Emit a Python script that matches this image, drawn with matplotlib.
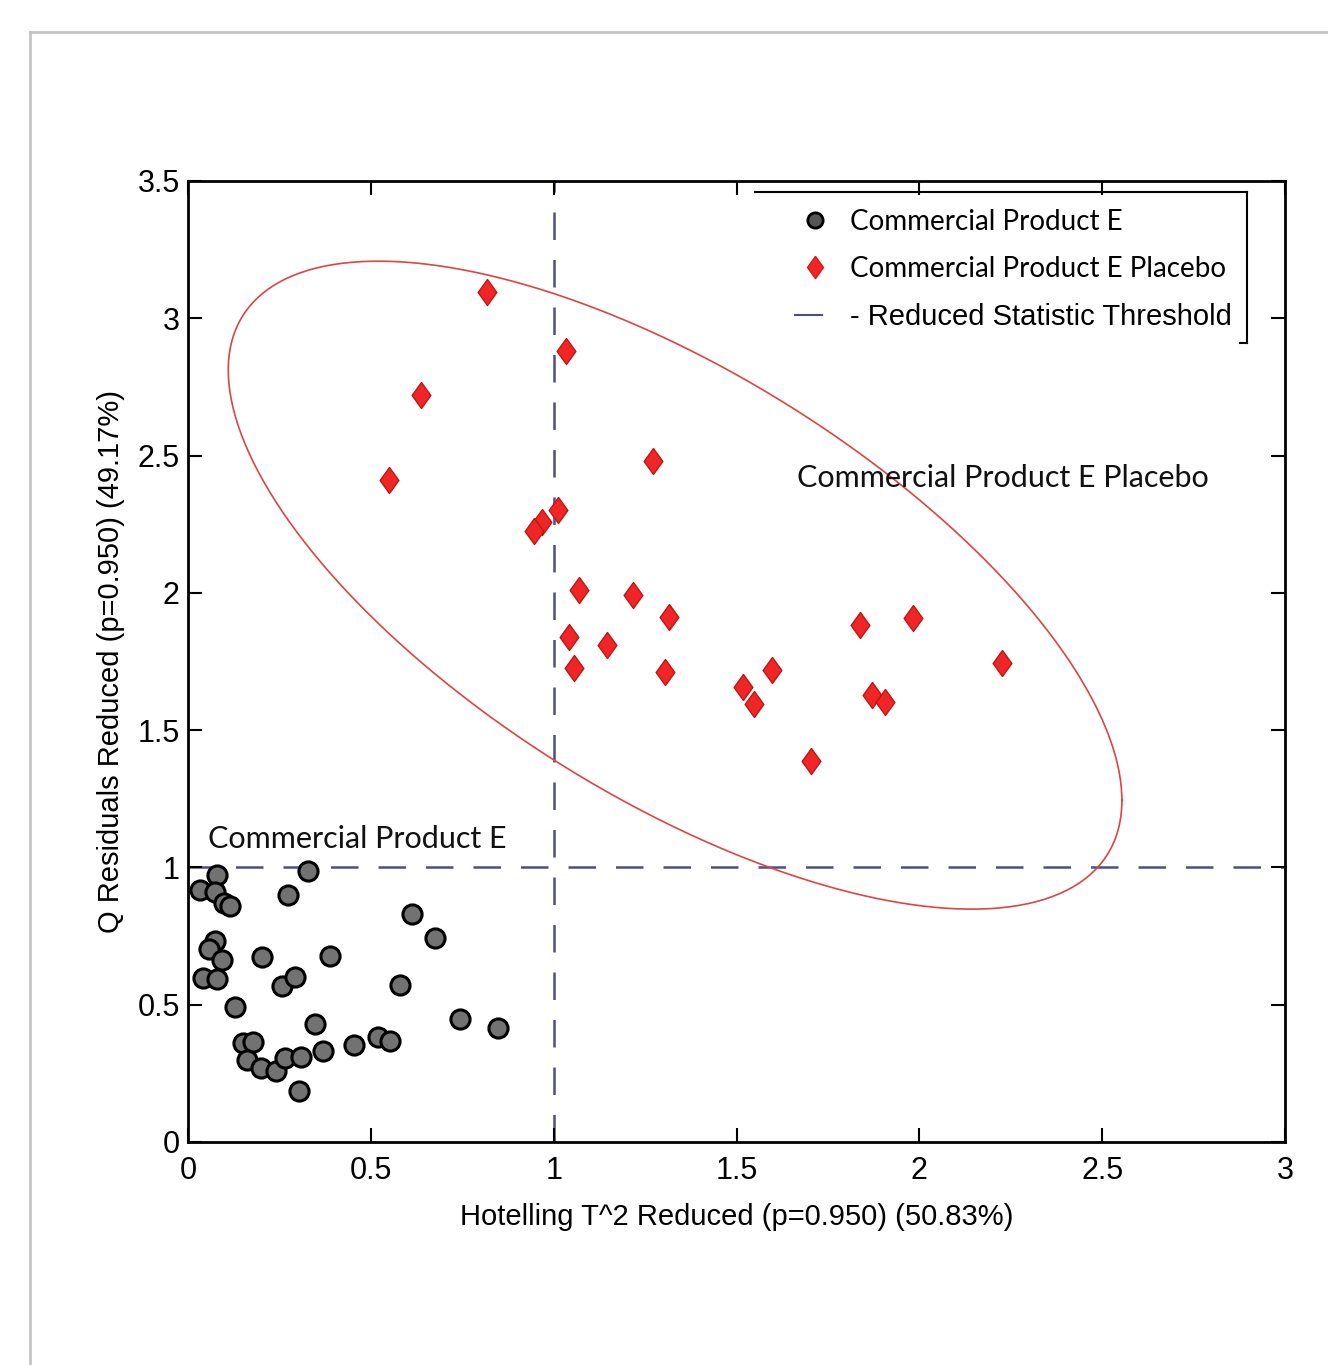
import numpy as np
import matplotlib
matplotlib.use('Agg')
import matplotlib.pyplot as plt
from matplotlib.lines import Line2D

# ==================== 数据 ====================
# Commercial Product E (gray circles)
prod_t2 = [0.078, 0.033, 0.074, 0.097, 0.115, 0.329, 0.274, 0.612, 0.675, 0.074,
           0.056, 0.092, 0.201, 0.388, 0.042, 0.078, 0.256, 0.293, 0.580, 0.129,
           0.347, 0.744, 0.849, 0.151, 0.179, 0.160, 0.199, 0.241, 0.265, 0.308,
           0.368, 0.454, 0.520, 0.551, 0.304]
prod_q = [0.972, 0.918, 0.911, 0.869, 0.859, 0.988, 0.899, 0.830, 0.742, 0.733,
          0.702, 0.663, 0.673, 0.677, 0.596, 0.592, 0.568, 0.600, 0.572, 0.490,
          0.430, 0.447, 0.414, 0.362, 0.365, 0.299, 0.268, 0.260, 0.305, 0.311,
          0.333, 0.353, 0.381, 0.369, 0.187]

# Commercial Product E Placebo (red diamonds)
plac_t2 = [0.817, 1.033, 0.637, 0.550, 1.271, 1.013, 0.967, 0.946, 1.070, 1.218,
           1.315, 1.043, 1.147, 1.056, 1.304, 1.598, 1.517, 1.548, 1.704, 1.838,
           1.983, 1.870, 1.906, 2.227]
plac_q = [3.096, 2.882, 2.720, 2.411, 2.480, 2.302, 2.259, 2.226, 2.010, 1.992,
          1.913, 1.840, 1.810, 1.725, 1.713, 1.719, 1.658, 1.595, 1.389, 1.883,
          1.909, 1.628, 1.603, 1.743]

# 阈值与置信椭圆（数据单位）
T2_LIMIT = 1.0
Q_LIMIT = 1.0
ELL_CENTER = (1.332, 2.028)
ELL_HALF_X = 1.222
ELL_HALF_Y = 1.180
ELL_PHASE_DEG = 131.6

X_TICKS = [0, 0.5, 1, 1.5, 2, 2.5, 3]
Y_TICKS = [0, 0.5, 1, 1.5, 2, 2.5, 3, 3.5]

LABEL_PROD = 'Commercial Product E'
LABEL_PLAC = 'Commercial Product E Placebo'
LABEL_THR = '- Reduced Statistic Threshold'

# ==================== 样式 ====================
PLAIN = ['Liberation Sans', 'DejaVu Sans']
HUMAN = ['Lato', 'Open Sans', 'DejaVu Sans']
THR_COLOR = '#4e4e80'
plt.rcParams['font.family'] = PLAIN

fig = plt.figure(figsize=(13.28, 13.65), dpi=100)
ax = fig.add_axes([0.1416, 0.1634, 0.826, 0.704])

# 阈值虚线
ax.axvline(T2_LIMIT, color=THR_COLOR, lw=1.8, dashes=(11, 8), zorder=1)
ax.axhline(Q_LIMIT, color=THR_COLOR, lw=1.8, dashes=(11, 8), zorder=1)

# 椭圆
t = np.linspace(0, 2 * np.pi, 400)
ex = ELL_CENTER[0] + ELL_HALF_X * np.cos(t)
ey = ELL_CENTER[1] + ELL_HALF_Y * np.cos(t + np.deg2rad(ELL_PHASE_DEG))
ax.plot(ex, ey, color='#dd4444', lw=1.2, zorder=2)

diamond = [(0, 1), (0.72, 0), (0, -1), (-0.72, 0), (0, 1)]
ax.scatter(prod_t2, prod_q, s=190, marker='o', facecolor='#727272',
           edgecolor='black', linewidths=2.2, zorder=3)
ax.scatter(plac_t2, plac_q, s=350, marker=diamond, facecolor='#f02525',
           edgecolor='#c01515', linewidths=1.0, zorder=3)

ax.set_xlim(0, 3)
ax.set_ylim(0, 3.5)
ax.set_xticks(X_TICKS)
ax.set_xticklabels(['0', '0.5', '1', '1.5', '2', '2.5', '3'])
ax.set_yticks(Y_TICKS)
ax.set_yticklabels(['0', '0.5', '1', '1.5', '2', '2.5', '3', '3.5'])
ax.tick_params(direction='in', length=10, width=1.5, top=True, right=True,
               labelsize=22)
ax.tick_params(axis='x', pad=10)
ax.tick_params(axis='y', pad=6)
for sp in ax.spines.values():
    sp.set_linewidth(2)

ax.set_xlabel('Hotelling T^2 Reduced (p=0.950) (50.83%)', fontsize=21, labelpad=12)
ax.set_ylabel('Q Residuals Reduced (p=0.950) (49.17%)', fontsize=21, labelpad=9)

# 区域标注
ax.text(0.055, 1.07, 'Commercial Product E', fontsize=22, family=HUMAN,
        color='#111111')
ax.text(1.665, 2.385, 'Commercial Product E Placebo', fontsize=22, family=HUMAN,
        color='#111111')

# 图例
handles = [
    Line2D([], [], ls='none', marker='o', markersize=11, markerfacecolor='#555555',
           markeredgecolor='black', markeredgewidth=2),
    Line2D([], [], ls='none', marker=diamond, markersize=16, markerfacecolor='#f02525',
           markeredgecolor='#e01515'),
    Line2D([], [], color=THR_COLOR, lw=1.5, dashes=(14, 100)),
]
leg = ax.legend(handles, [LABEL_PROD, LABEL_PLAC, LABEL_THR], loc='upper left',
                bbox_to_anchor=(0.53, 0.997), frameon=False,
                handlelength=1.5, handletextpad=0.5, labelspacing=0.75,
                prop={'family': HUMAN, 'size': 20})
leg.get_texts()[2].set_fontfamily(PLAIN)
leg.get_texts()[2].set_fontsize(21)

# 图例边框（只有上边和右边）
ax.add_line(Line2D([0.5169, 0.9654], [0.9886, 0.9886], transform=ax.transAxes,
                   color='black', lw=1.5, clip_on=False))
ax.add_line(Line2D([0.9654, 0.9654], [0.9886, 0.8314], transform=ax.transAxes,
                   color='black', lw=1.5, clip_on=False))
ax.add_line(Line2D([0.959, 0.9654], [0.8314, 0.8314], transform=ax.transAxes,
                   color='black', lw=1.5, clip_on=False))

# 页面灰框
fig.add_artist(Line2D([0.0226, 0.0226], [0.9766, 0.0], transform=fig.transFigure,
                      color='#c4c4c4', lw=2))
fig.add_artist(Line2D([0.0226, 1.0], [0.9766, 0.9766], transform=fig.transFigure,
                      color='#c4c4c4', lw=2))

fig.savefig('out.png', dpi=100)
